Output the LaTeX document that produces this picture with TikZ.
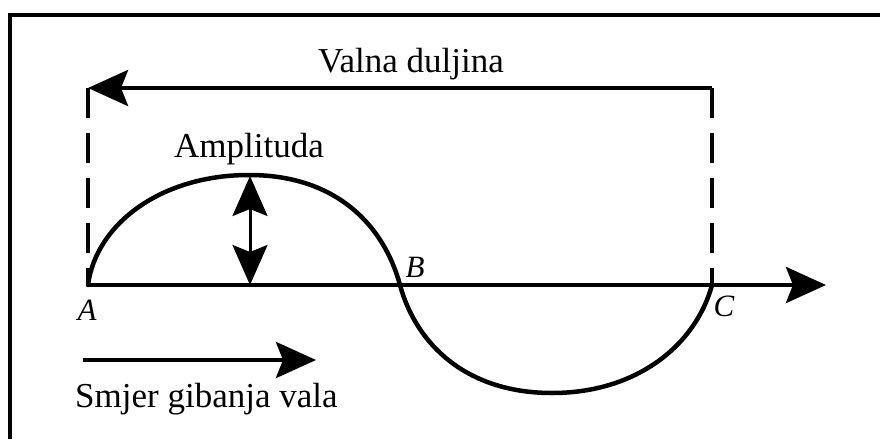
\documentclass[tikz,border=0pt]{standalone}
\usepackage{fontspec}
\setmainfont{Liberation Serif}
\usetikzlibrary{arrows.meta}
\begin{document}
\begin{tikzpicture}[x=1pt,y=-1pt,
  bigtip/.style={-{Stealth[length=40pt,width=36pt,inset=7pt]}},
  dbltip/.style={{Stealth[length=40pt,width=35pt,inset=7pt]}-{Stealth[length=40pt,width=35pt,inset=7pt]}},
  frameline/.style={line width=3.5pt},
  waveline/.style={line width=4.5pt},
  dashline/.style={line width=4.5pt,dash pattern=on 30pt off 15pt},
  bigtext/.style={font=\fontsize{35}{42}\selectfont, inner sep=0pt, anchor=base},
  ptlabel/.style={font=\fontsize{31}{36}\selectfont\itshape, inner sep=0pt}]
\useasboundingbox (0,0) rectangle (880,439);
% frame
\coordinate (fbl) at (10,439);
\coordinate (ftl) at (10,15);
\coordinate (ftr) at (880,15);
\draw[frameline] (fbl) -- (ftl) -- (ftr);
% points
\coordinate (A) at (88,285);
\coordinate (B) at (400,285);
\coordinate (C) at (712,285);
\coordinate (peak) at (249,175);
\coordinate (trough) at (552,393);
\coordinate (axend) at (826,285);
\coordinate (topL) at (88,88);
\coordinate (topR) at (712,88);
\coordinate (amptop) at (250,176);
\coordinate (ampbot) at (250,285);
\coordinate (dirs) at (83,360);
\coordinate (dire) at (316,360);
% wavelength arrow
\draw[line width=4pt, bigtip] (topR) -- (topL);
\draw[dashline] (topL) -- (A);
\draw[dashline] (topR) -- (C);
% axis
\draw[waveline, bigtip] (A) -- (axend);
% wave
\draw[waveline, line cap=round] (A) .. controls (96,224) and (161,175) .. (peak)
  .. controls (337,175) and (384,226) .. (B)
  .. controls (416,344) and (466,393) .. (trough)
  .. controls (638,393) and (696,344) .. (C);
% amplitude arrow
\draw[line width=3pt, dbltip] (ampbot) -- (amptop);
% direction arrow
\draw[line width=4pt, bigtip] (dirs) -- (dire);
% labels
\node[bigtext] (lval) at (411,72) {Valna duljina};
\node[bigtext] (lamp) at (249,157) {Amplituda};
\node[bigtext, anchor=base west] (ldir) at (75,407) {Smjer gibanja vala};
\node[ptlabel] (la) at (87,310) {A};
\node[ptlabel] (lb) at (415,267) {B};
\node[ptlabel] (lc) at (724,306) {C};
\end{tikzpicture}
\end{document}
